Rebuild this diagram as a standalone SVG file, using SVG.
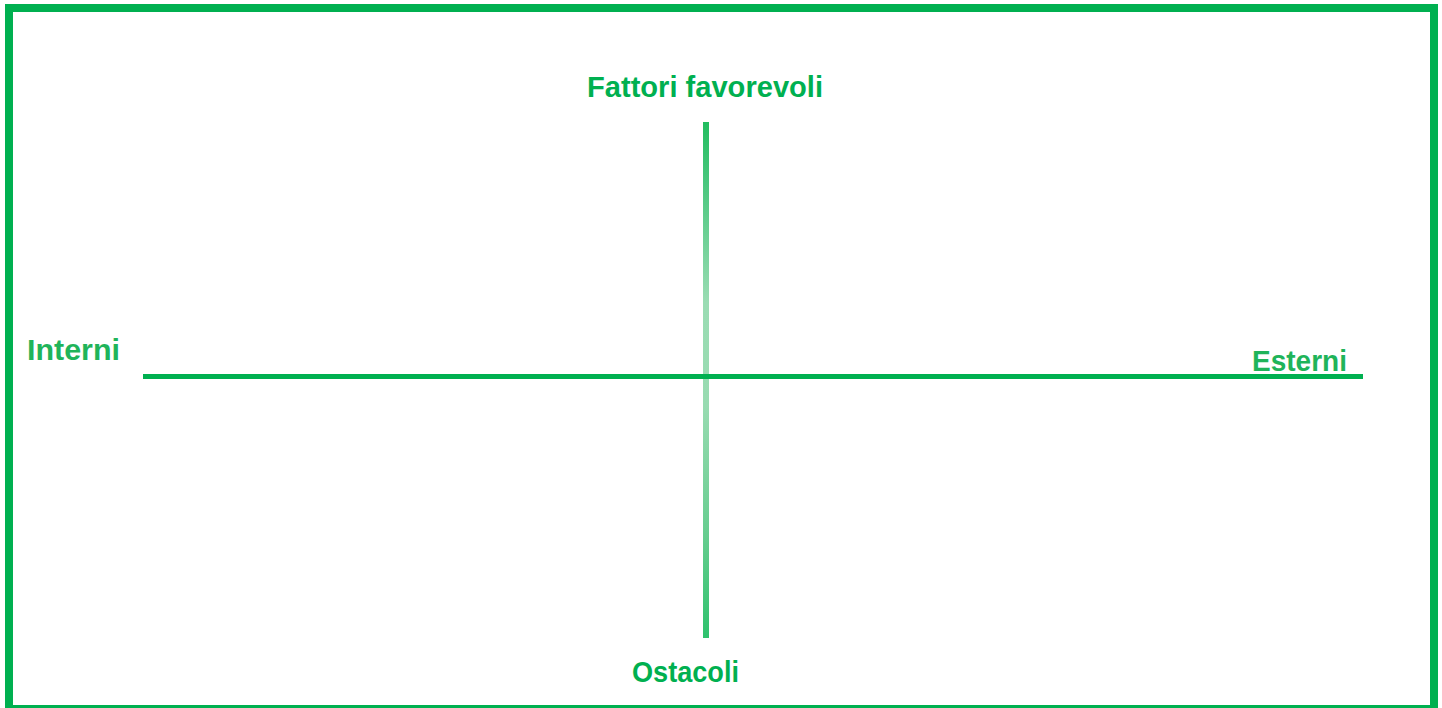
<svg xmlns="http://www.w3.org/2000/svg" width="1442" height="708" viewBox="0 0 1442 708">
  <style>
    .lbl { font-family: "Liberation Sans", Arial, sans-serif; font-weight: bold; font-size: 29px; fill: #00b050; }
    .soft { fill: #1fb45a; }
  </style>
  <defs>
    <linearGradient id="vgrad" x1="0" y1="0" x2="0" y2="1">
      <stop offset="0" stop-color="#22bd5f"/>
      <stop offset="0.12" stop-color="#4ac77e"/>
      <stop offset="0.35" stop-color="#9adcb3"/>
      <stop offset="0.55" stop-color="#98dbb1"/>
      <stop offset="0.8" stop-color="#66cd8f"/>
      <stop offset="1" stop-color="#2ec26d"/>
    </linearGradient>
  </defs>
  <rect width="1442" height="708" fill="#ffffff"/>
  <rect id="frame" x="9" y="8" width="1425" height="701" fill="none" stroke="#00b050" stroke-width="8"/>
  <g id="connectors">
    <rect x="703" y="122" width="6" height="516" fill="url(#vgrad)"/>
    <line x1="143" y1="376.5" x2="1363" y2="376.5" stroke="#00b050" stroke-width="5"/>
  </g>
  <g id="top-label"><text class="lbl" x="587" y="97" textLength="236" lengthAdjust="spacingAndGlyphs">Fattori favorevoli</text></g>
  <g id="bottom-label"><text class="lbl" x="632" y="682" textLength="107" lengthAdjust="spacingAndGlyphs">Ostacoli</text></g>
  <g id="left-label"><text class="lbl soft" x="27" y="360" textLength="93" lengthAdjust="spacingAndGlyphs">Interni</text></g>
  <g id="right-label"><text class="lbl soft" x="1252" y="371" textLength="95" lengthAdjust="spacingAndGlyphs">Esterni</text></g>
</svg>
